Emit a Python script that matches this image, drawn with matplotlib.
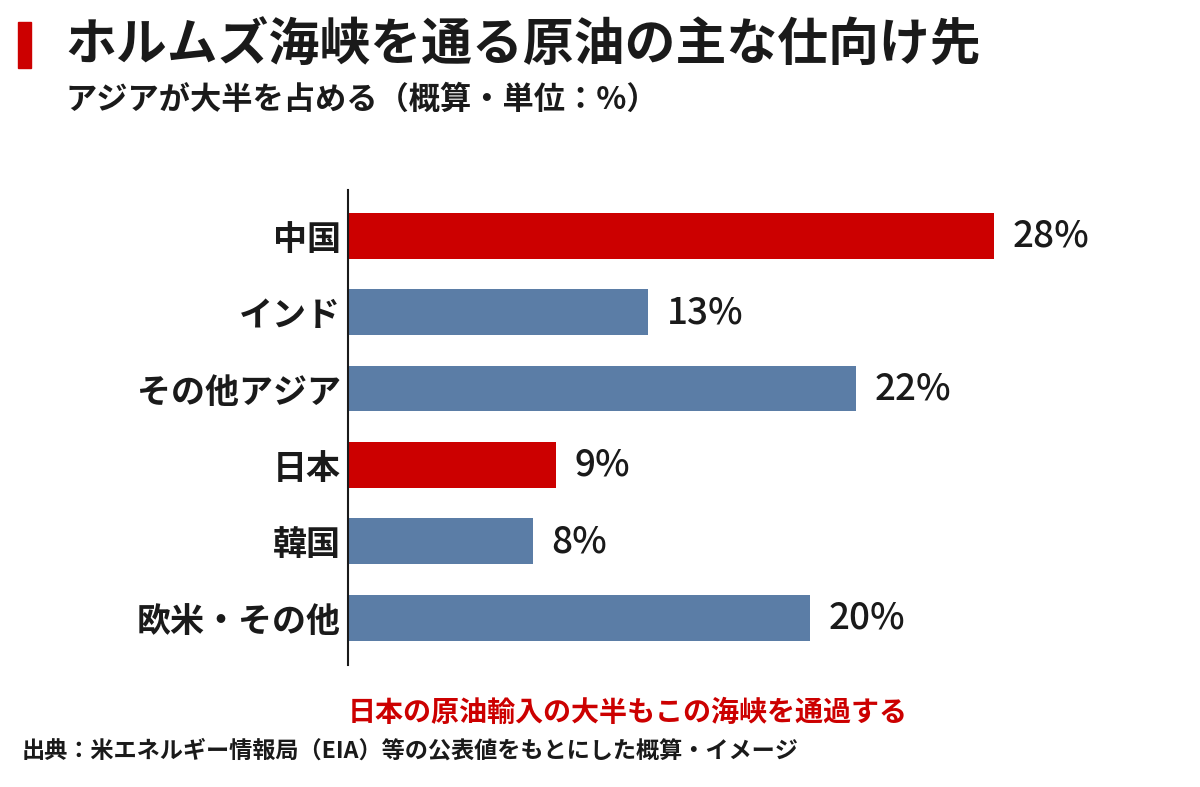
import matplotlib
matplotlib.use("Agg")
import matplotlib.pyplot as plt
from matplotlib.patches import Rectangle

plt.rcParams["font.family"] = ["Noto Sans CJK JP", "DejaVu Sans"]

# data
categories = ["中国", "インド", "その他アジア", "日本", "韓国", "欧米・その他"]
shares = [28, 13, 22, 9, 8, 20]
highlight = [True, False, False, True, False, False]

title = "ホルムズ海峡を通る原油の主な仕向け先"
subtitle = "アジアが大半を占める（概算・単位：%）"
note = "日本の原油輸入の大半もこの海峡を通過する"
source = "出典：米エネルギー情報局（EIA）等の公表値をもとにした概算・イメージ"

RED = "#CC0000"
BLUE = "#5B7DA6"
W, H = 1200, 787

fig = plt.figure(figsize=(W / 100, H / 100), dpi=100)
fig.patch.set_facecolor("white")

# axes placed so that 0 sits at x=348px and the axis spans y=190..665px
ax = fig.add_axes([348 / W, 1 - 665 / H, (1156 - 348) / W, (665 - 190) / H])
y = list(range(len(categories)))
colors = [RED if h else BLUE for h in highlight]
ax.barh(y, shares, height=0.6, color=colors)
ax.set_xlim(0, 35)
ax.set_ylim(5.62, -0.6)

for yi, v in zip(y, shares):
    ax.text(v + 0.8, yi, f"{v}%", va="center", ha="left",
            fontsize=26.5, fontweight="medium", color="#1a1a1a")

ax.set_yticks(y)
ax.set_yticklabels(categories, fontsize=24.5, fontweight="bold", color="#1a1a1a")
ax.tick_params(axis="y", length=0, pad=5)
ax.set_xticks([])
for side in ["top", "right", "bottom"]:
    ax.spines[side].set_visible(False)
ax.spines["left"].set_linewidth(1.5)
ax.spines["left"].set_color("#1a1a1a")

# title block
fig.patches.append(Rectangle((18 / W, 1 - 68 / H), 13 / W, 46 / H,
                             transform=fig.transFigure, color=RED))
fig.text(65 / W, 1 - 45 / H, title, fontsize=36.6, fontweight="bold",
         va="center", ha="left", color="#1a1a1a")
fig.text(65 / W, 1 - 100 / H, subtitle, fontsize=22.5, fontweight="bold",
         va="center", ha="left", color="#1a1a1a")

fig.text(628 / W, 1 - 713 / H, note, fontsize=20.2, fontweight="bold",
         va="center", ha="center", color=RED)
fig.text(22 / W, 1 - 751 / H, source, fontsize=16.7, fontweight="bold",
         va="center", ha="left", color="#1a1a1a")

fig.savefig("out.png", dpi=100, facecolor="white")
